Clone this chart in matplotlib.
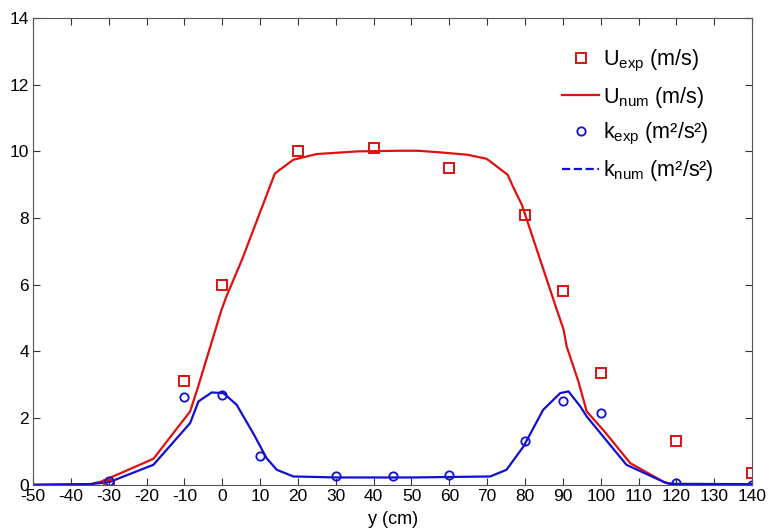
import numpy as np
import matplotlib.pyplot as plt
from matplotlib.lines import Line2D

plt.rcParams['font.family'] = ['Liberation Sans', 'DejaVu Sans']
plt.rcParams['mathtext.fontset'] = 'custom'
plt.rcParams['mathtext.rm'] = 'Liberation Sans'
plt.rcParams['mathtext.it'] = 'Liberation Sans'
plt.rcParams['axes.unicode_minus'] = False

# experimental data
y_uexp = [-30, -10, 0, 20, 40, 60, 80, 90, 100, 120, 140]
u_exp = [0.0, 3.1, 6.0, 10.0, 10.1, 9.5, 8.1, 5.8, 3.35, 1.3, 0.35]

y_kexp = [-30, -10, 0, 10, 30, 45, 60, 80, 90, 100, 120, 140]
k_exp = [0.1, 2.62, 2.7, 0.85, 0.25, 0.25, 0.3, 1.3, 2.5, 2.15, 0.05, 0.0]

# numerical profiles
y_unum = [-50, -34.9, -31.9, -18.2, -8.5, -6.5, -0.2, 1.1, 5.2, 13.9, 18.8, 24.9,
          35.6, 46.7, 51.7, 57.7, 64.8, 69.8, 70.8, 75.4, 77.0, 79.2, 88.4, 90.2,
          91.0, 94.1, 96.3, 101.0, 107.8, 116.9, 119.5, 140]
u_num = [0.0, 0.02, 0.1, 0.78, 2.2, 2.9, 5.25, 5.65, 6.75, 9.34, 9.75, 9.92,
         10.0, 10.02, 10.02, 9.97, 9.9, 9.78, 9.7, 9.3, 8.9, 8.39, 5.25, 4.65, 4.15,
         3.1, 2.2, 1.6, 0.65, 0.07, 0.02, 0.02]

y_knum = [-50, -34.9, -29.9, -18.2, -8.5, -6.3, -2.8, 0.3, 3.8, 8.4, 11.7, 14.4,
          18.8, 30.5, 50.5, 70.8, 75.1, 79.6, 84.8, 89.3, 91.5, 94.6, 96.3, 101.0,
          106.8, 116.4, 118.0, 140]
k_num = [0.0, 0.02, 0.08, 0.6, 1.85, 2.5, 2.77, 2.75, 2.4, 1.5, 0.8, 0.45, 0.25,
         0.22, 0.22, 0.25, 0.45, 1.15, 2.25, 2.75, 2.8, 2.35, 2.05, 1.4, 0.6,
         0.1, 0.03, 0.02]

red = '#e01010'
blue = '#1010d0'

fig = plt.figure(figsize=(7.69, 5.31), dpi=100)
ax = fig.add_axes([0.043, 0.087, 0.935, 0.879])

ax.plot(y_unum, u_num, '-', color=red, lw=1.6)
ax.plot(y_knum, k_num, '-', color=blue, lw=1.6)
ax.plot(y_uexp, u_exp, 's', mfc='none', mec=red, ms=7, mew=1.4)
ax.plot(y_kexp, k_exp, 'o', mfc='none', mec=blue, ms=6, mew=1.3)

ax.set_xlim(-50, 140)
ax.set_ylim(0, 14)
ax.set_xticks(np.arange(-50, 141, 10))
ax.set_yticks(np.arange(0, 15, 2))
ax.tick_params(direction='in', top=True, right=True, labelsize=12.5,
               length=5, color='#333333', pad=3)
for s in ax.spines.values():
    s.set_color('#555555')
ax.set_xlabel('y (cm)', fontsize=13, labelpad=5)

handles = [
    Line2D([], [], ls='none', marker='s', mfc='none', mec=red, ms=7, mew=1.4),
    Line2D([], [], color=red, lw=1.6),
    Line2D([], [], ls='none', marker='o', mfc='none', mec=blue, ms=6, mew=1.3),
    Line2D([], [], color=blue, lw=1.6, ls='--'),
]
labels = [r'U$_{\mathrm{exp}}$ (m/s)', r'U$_{\mathrm{num}}$ (m/s)',
          r'k$_{\mathrm{exp}}$ (m²/s²)', r'k$_{\mathrm{num}}$ (m²/s²)']
ax.legend(handles, labels, loc='upper right', bbox_to_anchor=(0.9534, 0.9467),
          bbox_transform=fig.transFigure,
          frameon=False, fontsize=15.5, labelspacing=0.52, handlelength=1.7,
          handletextpad=0.2)

fig.savefig('out.png', dpi=100)
